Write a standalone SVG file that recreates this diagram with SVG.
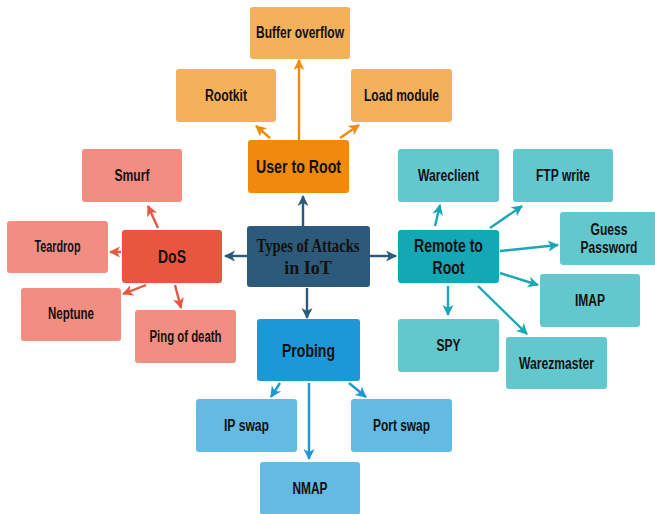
<svg xmlns="http://www.w3.org/2000/svg" width="655" height="514" viewBox="0 0 655 514">
  <style>
    .lbl { font-family: "Liberation Sans", Arial, sans-serif; font-weight: bold; font-size: 16px; fill: #111; text-anchor: middle; }
    .big { font-size: 18px; }
    .ctr { font-family: "Liberation Serif", "Times New Roman", serif; font-weight: bold; font-size: 18px; fill: #111; text-anchor: middle; }
    .box { rx: 3; ry: 3; }
    .ln { fill: none; stroke-width: 2.4; }
    .c-ctr { stroke: #2d5a7b; marker-end: url(#ah-ctr); }
    .c-org { stroke: #ef8a0c; marker-end: url(#ah-org); }
    .c-red { stroke: #e8563f; marker-end: url(#ah-red); }
    .c-tea { stroke: #17a8b6; marker-end: url(#ah-tea); }
    .c-blu { stroke: #1b98d5; marker-end: url(#ah-blu); }
  </style>
  <defs>
    <marker id="ah-ctr" markerUnits="userSpaceOnUse" markerWidth="13" markerHeight="13" refX="11" refY="6.5" orient="auto"><path d="M1,1 L12,6.5 L1,12 L4,6.5 z" fill="#2d5a7b"/></marker>
    <marker id="ah-org" markerUnits="userSpaceOnUse" markerWidth="13" markerHeight="13" refX="11" refY="6.5" orient="auto"><path d="M1,1 L12,6.5 L1,12 L4,6.5 z" fill="#ef8a0c"/></marker>
    <marker id="ah-red" markerUnits="userSpaceOnUse" markerWidth="13" markerHeight="13" refX="11" refY="6.5" orient="auto"><path d="M1,1 L12,6.5 L1,12 L4,6.5 z" fill="#e8563f"/></marker>
    <marker id="ah-tea" markerUnits="userSpaceOnUse" markerWidth="13" markerHeight="13" refX="11" refY="6.5" orient="auto"><path d="M1,1 L12,6.5 L1,12 L4,6.5 z" fill="#17a8b6"/></marker>
    <marker id="ah-blu" markerUnits="userSpaceOnUse" markerWidth="13" markerHeight="13" refX="11" refY="6.5" orient="auto"><path d="M1,1 L12,6.5 L1,12 L4,6.5 z" fill="#1b98d5"/></marker>
  </defs>

  <rect width="655" height="514" fill="#ffffff"/>

  <!-- connectors -->
  <g id="connectors">
    <line class="ln c-ctr" x1="303" y1="226" x2="303" y2="196"/>
    <line class="ln c-ctr" x1="247" y1="256" x2="225" y2="256"/>
    <line class="ln c-ctr" x1="370" y1="256" x2="396" y2="256"/>
    <line class="ln c-ctr" x1="307" y1="288" x2="307" y2="318"/>

    <line class="ln c-org" x1="299" y1="140" x2="299" y2="60"/>
    <line class="ln c-org" x1="270" y1="138" x2="256" y2="126"/>
    <line class="ln c-org" x1="340" y1="138" x2="359" y2="125"/>

    <line class="ln c-red" x1="158" y1="228" x2="148" y2="206"/>
    <line class="ln c-red" x1="121" y1="252" x2="110" y2="252"/>
    <line class="ln c-red" x1="146" y1="285" x2="123" y2="294"/>
    <line class="ln c-red" x1="175" y1="285" x2="181" y2="308"/>

    <line class="ln c-tea" x1="435" y1="226" x2="440" y2="205"/>
    <line class="ln c-tea" x1="490" y1="228" x2="522" y2="206"/>
    <line class="ln c-tea" x1="500" y1="251" x2="558" y2="245"/>
    <line class="ln c-tea" x1="500" y1="273" x2="538" y2="285"/>
    <line class="ln c-tea" x1="478" y1="286" x2="527" y2="334"/>
    <line class="ln c-tea" x1="448" y1="286" x2="448" y2="315"/>

    <line class="ln c-blu" x1="280" y1="383" x2="271" y2="397"/>
    <line class="ln c-blu" x1="309" y1="383" x2="309" y2="459"/>
    <line class="ln c-blu" x1="349" y1="383" x2="366" y2="397"/>
  </g>

  <!-- centre -->
  <g id="types-of-attacks">
    <rect class="box" x="247" y="226" width="123" height="61" fill="#2d5a7b"/>
    <text class="ctr" x="308" y="252" textLength="103" lengthAdjust="spacingAndGlyphs">Types of Attacks</text>
    <text class="ctr" x="308" y="274">in IoT</text>
  </g>

  <!-- user to root branch -->
  <g id="user-to-root">
    <rect class="box" x="248" y="140" width="101" height="53" fill="#ef8a0c"/>
    <text class="lbl big" x="298.5" y="173" textLength="85" lengthAdjust="spacingAndGlyphs">User to Root</text>
  </g>
  <g id="buffer-overflow">
    <rect class="box" x="250" y="7" width="100" height="52" fill="#f5b05b"/>
    <text class="lbl" x="300" y="38" textLength="88" lengthAdjust="spacingAndGlyphs">Buffer overflow</text>
  </g>
  <g id="rootkit">
    <rect class="box" x="176" y="69" width="100" height="53" fill="#f5b05b"/>
    <text class="lbl" x="226" y="101" textLength="42" lengthAdjust="spacingAndGlyphs">Rootkit</text>
  </g>
  <g id="load-module">
    <rect class="box" x="351" y="69" width="101" height="53" fill="#f5b05b"/>
    <text class="lbl" x="401.5" y="101" textLength="75" lengthAdjust="spacingAndGlyphs">Load module</text>
  </g>

  <!-- DoS branch -->
  <g id="dos">
    <rect class="box" x="122" y="230" width="100" height="53" fill="#e8563f"/>
    <text class="lbl big" x="172" y="263" textLength="28" lengthAdjust="spacingAndGlyphs">DoS</text>
  </g>
  <g id="smurf">
    <rect class="box" x="82" y="149" width="100" height="53" fill="#f28d81"/>
    <text class="lbl" x="132" y="181" textLength="35" lengthAdjust="spacingAndGlyphs">Smurf</text>
  </g>
  <g id="teardrop">
    <rect class="box" x="7" y="221" width="101" height="52" fill="#f28d81"/>
    <text class="lbl" x="57.5" y="252" font-size="15" textLength="46" lengthAdjust="spacingAndGlyphs">Teardrop</text>
  </g>
  <g id="neptune">
    <rect class="box" x="21" y="288" width="100" height="53" fill="#f28d81"/>
    <text class="lbl" x="71" y="319" font-size="15" textLength="46" lengthAdjust="spacingAndGlyphs">Neptune</text>
  </g>
  <g id="ping-of-death">
    <rect class="box" x="135" y="310" width="101" height="53" fill="#f28d81"/>
    <text class="lbl" x="185.5" y="342" textLength="72" lengthAdjust="spacingAndGlyphs">Ping of death</text>
  </g>

  <!-- remote to root branch -->
  <g id="remote-to-root">
    <rect class="box" x="398" y="230" width="101" height="53" fill="#14a7b5"/>
    <text class="lbl big" x="448.5" y="252" textLength="69" lengthAdjust="spacingAndGlyphs">Remote to</text>
    <text class="lbl big" x="448.5" y="274" textLength="32" lengthAdjust="spacingAndGlyphs">Root</text>
  </g>
  <g id="wareclient">
    <rect class="box" x="398" y="149" width="101" height="53" fill="#63c7ce"/>
    <text class="lbl" x="448.5" y="181" textLength="61" lengthAdjust="spacingAndGlyphs">Wareclient</text>
  </g>
  <g id="ftp-write">
    <rect class="box" x="513" y="149" width="100" height="53" fill="#63c7ce"/>
    <text class="lbl" x="563" y="181" textLength="54" lengthAdjust="spacingAndGlyphs">FTP write</text>
  </g>
  <g id="guess-password">
    <rect class="box" x="560" y="212" width="97" height="53" fill="#63c7ce"/>
    <text class="lbl" x="609" y="235" textLength="37" lengthAdjust="spacingAndGlyphs">Guess</text>
    <text class="lbl" x="609" y="253" textLength="57" lengthAdjust="spacingAndGlyphs">Password</text>
  </g>
  <g id="imap">
    <rect class="box" x="540" y="274" width="100" height="53" fill="#63c7ce"/>
    <text class="lbl" x="590" y="306" textLength="30" lengthAdjust="spacingAndGlyphs">IMAP</text>
  </g>
  <g id="spy">
    <rect class="box" x="398" y="319" width="101" height="53" fill="#63c7ce"/>
    <text class="lbl" x="448.5" y="351" textLength="24" lengthAdjust="spacingAndGlyphs">SPY</text>
  </g>
  <g id="warezmaster">
    <rect class="box" x="506" y="337" width="101" height="52" fill="#63c7ce"/>
    <text class="lbl" x="556.5" y="369" textLength="75" lengthAdjust="spacingAndGlyphs">Warezmaster</text>
  </g>

  <!-- probing branch -->
  <g id="probing">
    <rect class="box" x="257" y="319" width="103" height="62" fill="#1b98d5"/>
    <text class="lbl big" x="308.5" y="357" textLength="53" lengthAdjust="spacingAndGlyphs">Probing</text>
  </g>
  <g id="ip-swap">
    <rect class="box" x="196" y="399" width="101" height="53" fill="#63bae3"/>
    <text class="lbl" x="246.5" y="431" textLength="45" lengthAdjust="spacingAndGlyphs">IP swap</text>
  </g>
  <g id="port-swap">
    <rect class="box" x="351" y="399" width="101" height="53" fill="#63bae3"/>
    <text class="lbl" x="401.5" y="431" textLength="57" lengthAdjust="spacingAndGlyphs">Port swap</text>
  </g>
  <g id="nmap">
    <rect class="box" x="260" y="462" width="100" height="53" fill="#63bae3"/>
    <text class="lbl" x="310" y="494" textLength="35" lengthAdjust="spacingAndGlyphs">NMAP</text>
  </g>
</svg>
